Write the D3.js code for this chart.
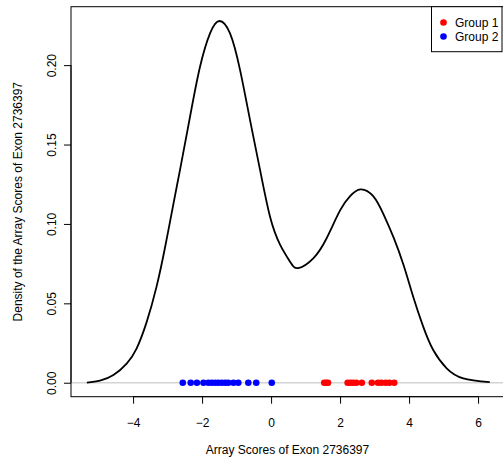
<!DOCTYPE html>
<html>
<head>
<meta charset="utf-8">
<script src="https://cdn.jsdelivr.net/npm/d3@7"></script>
<style>
  html, body { margin: 0; padding: 0; background: #fff; }
  svg { display: block; font-family: "Liberation Sans", Arial, Helvetica, sans-serif; }
</style>
</head>
<body>
<svg id="chart" width="503" height="462"></svg>
<script>
// Kernel density estimate of exon 2736397 array scores (x, density)
const densityX = [-5.34, -4.96, -4.57, -4.18, -3.90, -3.61, -3.32, -3.07, -2.81, -2.64,
                  -2.35, -2.06, -1.77, -1.50, -1.19, -0.90, -0.61, -0.32, -0.03, 0.26,
                  0.55, 0.79, 1.23, 1.61, 2.00, 2.29, 2.59, 2.96, 3.26, 3.55,
                  3.84, 4.12, 4.41, 4.70, 5.09, 5.57, 6.34];
const densityY = [0.0000, 0.0013, 0.0048, 0.0122, 0.0215, 0.0380, 0.0605, 0.0856, 0.1150, 0.1340,
                  0.1675, 0.1990, 0.2200, 0.2278, 0.2200, 0.1970, 0.1654, 0.1340, 0.1045, 0.0870,
                  0.0762, 0.0722, 0.0785, 0.0910, 0.1085, 0.1175, 0.1218, 0.1175, 0.1060, 0.0915,
                  0.0741, 0.0542, 0.0353, 0.0206, 0.0091, 0.0028, 0.0004];

// Individual array scores by group
const group1Scores = [1.54, 1.60, 1.65, 2.22, 2.30, 2.38, 2.47, 2.63, 2.92, 3.10, 3.20, 3.32, 3.43, 3.57];
const group2Scores = [-2.56, -2.33, -2.15, -1.96, -1.82, -1.72, -1.62, -1.53, -1.43, -1.33,
                      -1.24, -1.09, -0.95, -0.66, -0.43, 0.02];

const groupLabels = ["Group 1", "Group 2"];
const groupColors = ["#ff0000", "#0000ff"];

const xTicks = [-4, -2, 0, 2, 4, 6];
const yTicks = [0, 0.05, 0.10, 0.15, 0.20];

const xTitle = "Array Scores of Exon 2736397";
const yTitle = "Density of the Array Scores of Exon 2736397";

const svg = d3.select("#chart");
const plot = { left: 71, right: 506, top: 6.7, bottom: 396.7 };

const x = d3.scaleLinear().domain([-5.80, 6.81]).range([plot.left, plot.right]);
const y = d3.scaleLinear().domain([-0.0088, 0.2368]).range([plot.bottom, plot.top]);

// zero reference line
svg.append("line")
  .attr("x1", plot.left).attr("x2", plot.right)
  .attr("y1", y(0)).attr("y2", y(0))
  .attr("stroke", "#d3d3d3").attr("stroke-width", 1.6);

// density curve
const curveData = densityX.map((v, i) => [v, densityY[i]]);
svg.append("path")
  .datum(curveData)
  .attr("fill", "none")
  .attr("stroke", "#000")
  .attr("stroke-width", 1.8)
  .attr("d", d3.line().x(d => x(d[0])).y(d => y(d[1])).curve(d3.curveNatural));

// score points on the baseline
const groups = [group1Scores, group2Scores];
groups.forEach((scores, gi) => {
  svg.append("g").selectAll("circle")
    .data(scores)
    .join("circle")
    .attr("cx", d => x(d))
    .attr("cy", y(0))
    .attr("r", 3.3)
    .attr("fill", groupColors[gi]);
});

// plot frame
svg.append("rect")
  .attr("x", plot.left).attr("y", plot.top)
  .attr("width", plot.right - plot.left).attr("height", plot.bottom - plot.top)
  .attr("fill", "none").attr("stroke", "#000").attr("stroke-width", 1);

// x axis
const xAxis = svg.append("g")
  .attr("transform", `translate(0,${plot.bottom})`)
  .call(d3.axisBottom(x).tickValues(xTicks).tickSize(7).tickSizeOuter(0).tickPadding(15));
xAxis.select(".domain").attr("d", `M${x(xTicks[0])},0H${x(xTicks[xTicks.length - 1])}`);
xAxis.selectAll("text").attr("font-size", 12).attr("fill", "#000")
  .attr("font-family", "Liberation Sans, Arial, sans-serif");

// y axis with rotated tick labels
const yAxis = svg.append("g")
  .attr("transform", `translate(${plot.left},0)`)
  .call(d3.axisLeft(y).tickValues(yTicks).tickSize(7).tickSizeOuter(0).tickFormat(d3.format(".2f")));
yAxis.select(".domain").attr("d", `M0,${y(yTicks[0])}V${y(yTicks[yTicks.length - 1])}`);
yAxis.selectAll(".tick text")
  .attr("font-size", 12).attr("fill", "#000")
  .attr("font-family", "Liberation Sans, Arial, sans-serif")
  .attr("x", null).attr("dy", null)
  .attr("text-anchor", "middle")
  .attr("transform", "translate(-15,0) rotate(-90)");

// axis titles
svg.append("text")
  .attr("x", (plot.left + plot.right) / 2 - 1).attr("y", 454)
  .attr("text-anchor", "middle").attr("font-size", 12).attr("fill", "#000")
  .text(xTitle);
svg.append("text")
  .attr("transform", `translate(22,${(plot.top + plot.bottom) / 2}) rotate(-90)`)
  .attr("text-anchor", "middle").attr("font-size", 12).attr("fill", "#000")
  .text(yTitle);

// legend
const legend = svg.append("g");
legend.append("rect")
  .attr("x", 431.5).attr("y", plot.top)
  .attr("width", 70.5).attr("height", 51.7 - plot.top)
  .attr("fill", "#fff").attr("stroke", "#000").attr("stroke-width", 1);
groupLabels.forEach((label, i) => {
  const cy = 22.5 + i * 14;
  legend.append("circle").attr("cx", 443.5).attr("cy", cy).attr("r", 3.3).attr("fill", groupColors[i]);
  legend.append("text").attr("x", 455).attr("y", cy + 4.3)
    .attr("font-size", 12).attr("fill", "#000").text(label);
});
</script>
</body>
</html>
